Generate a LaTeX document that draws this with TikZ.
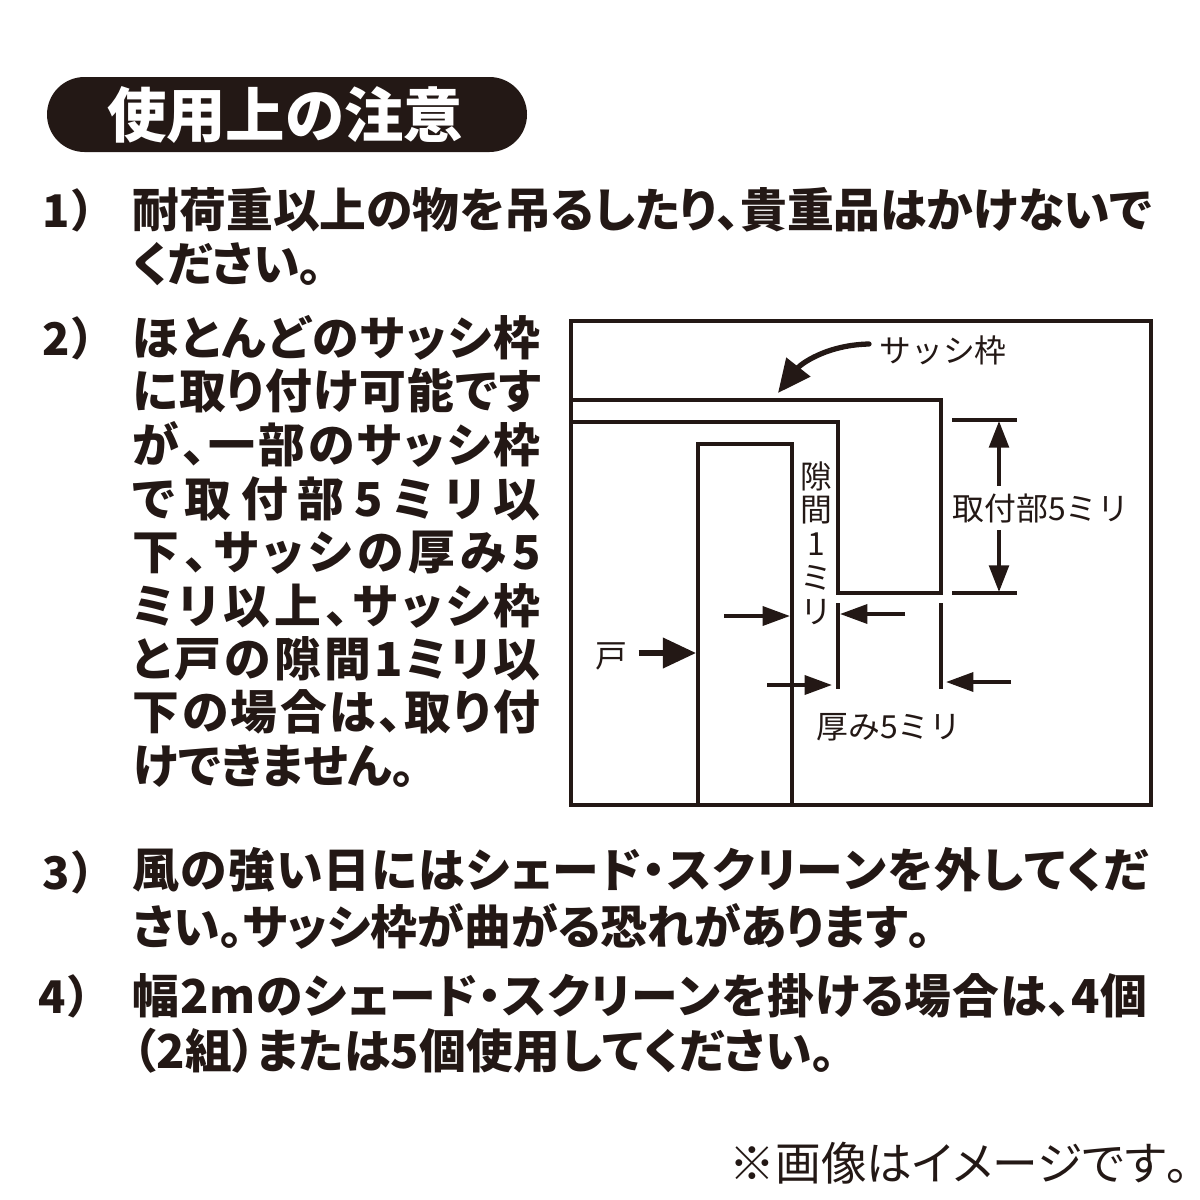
\documentclass[tikz,border=0pt]{standalone}
\usepackage{fontspec}
\newfontfamily\jpfont{Noto Sans CJK JP}[RawFeature=+palt]
\newfontfamily\jpplain{Noto Sans CJK JP}
\usetikzlibrary{arrows.meta}
\definecolor{inkblack}{HTML}{231815}
\newlength\pxlen
\setlength\pxlen{0.01cm}
\newcommand{\spreadnext}[1]{\ifx#1\relax\else#1\hfil\expandafter\spreadnext\fi}
\newcommand{\fitline}[2]{\hbox to #1\pxlen{\spreadnext#2\relax\unskip}}
\tikzset{
  bodyline/.style={anchor=west,inner sep=0pt,text=inkblack,text height=10.5pt,text depth=1.5pt,
    font=\jpfont\bfseries\fontsize{13.3}{15}\selectfont},
  numline/.style={bodyline,font=\jpplain\bfseries\fontsize{12.8}{15}\selectfont},
  smalltext/.style={inner sep=0pt,text=inkblack,font=\jpplain\fontsize{9.05}{10.5}\selectfont},
  wall/.style={draw=inkblack,line width=1.15pt},
  guide/.style={draw=inkblack,line width=1.05pt},
  pointer/.style={draw=inkblack,line width=1.05pt,-{Triangle[length=7.8pt,width=5.4pt]}},
  dimarrow/.style={draw=inkblack,line width=1.05pt,-{Triangle[length=7.6pt,width=5.6pt]}},
  bigarrow/.style={draw=inkblack,line width=1.5pt,-{Triangle[length=9.4pt,width=8.4pt]}}
}
\begin{document}
\begin{tikzpicture}[x=0.01cm,y=-0.01cm]
  \useasboundingbox (0,0) rectangle (1200,1200);
  \node[rounded corners=37.5*0.01cm,fill=inkblack,minimum width=480*0.01cm,minimum height=75*0.01cm,inner sep=0pt] (title) at (287,114.5) {};
  \node[inner sep=0pt,text=white,font=\jpfont\bfseries\fontsize{16.9}{20}\selectfont] (titletext) at (285,115) {使用上の注意};

  \node[numline] (n1) at (42,212) {1）};
  \node[bodyline] (t1a) at (132,212) {\fitline{1016}{耐荷重以上の物を吊るしたり、貴重品はかけないで}};
  \node[bodyline] (t1b) at (132,266) {\fitline{186}{ください。}};
  \node[numline] (n2) at (42,340) {2）};
  \node[bodyline] (t2a) at (132,340) {\fitline{408}{ほとんどのサッシ枠}};
  \node[bodyline] (t2b) at (132,393) {\fitline{408}{に取り付け可能です}};
  \node[bodyline] (t2c) at (132,447) {\fitline{408}{が、一部のサッシ枠}};
  \node[bodyline] (t2d) at (132,501) {\fitline{408}{で取付部5ミリ以}};
  \node[bodyline] (t2e) at (132,554) {\fitline{408}{下、サッシの厚み5}};
  \node[bodyline] (t2f) at (132,608) {\fitline{408}{ミリ以上、サッシ枠}};
  \node[bodyline] (t2g) at (132,661) {\fitline{408}{と戸の隙間1ミリ以}};
  \node[bodyline] (t2h) at (132,714) {\fitline{408}{下の場合は、取り付}};
  \node[bodyline] (t2i) at (132,768) {\fitline{283}{けできません。}};
  \node[numline] (n3) at (42,874) {3）};
  \node[bodyline] (t3a) at (132,872) {\fitline{1015}{風の強い日にはシェード・スクリーンを外してくだ}};
  \node[bodyline] (t3b) at (132,929) {\fitline{793}{さい。サッシ枠が曲がる恐れがあります。}};
  \node[numline] (n4) at (38,998) {4）};
  \node[bodyline] (t4a) at (132,998) {\fitline{1015}{幅2mのシェード・スクリーンを掛ける場合は、4個}};
  \node[bodyline] (t4b) at (132,1053) {\fitline{703}{（2組）または5個使用してください。}};
  \node[bodyline,font=\jpfont\fontsize{13}{15}\selectfont] (note) at (729,1165) {\fitline{454}{※画像はイメージです。}};

  \draw[wall] (571,321) rectangle (1151,805);
  \draw[wall] (571,400) -- (941,400) -- (941,593) -- (838,593) -- (838,422) -- (571,422);
  \draw[wall] (698,805) -- (698,444) -- (792,444) -- (792,805);

  \node[smalltext] (sash) at (943,350) {サッシ枠};
  \node[smalltext] (fix) at (1041,508) {取付部5ミリ};
  \node[smalltext] (thick) at (889,727) {厚み5ミリ};
  \node[smalltext] (door) at (611,656) {戸};
  \node[smalltext,align=center,font=\jpplain\fontsize{9.05}{9.6}\selectfont] (gap) at (816,543) {隙\\間\\1\\ミ\\リ};

  \coordinate (sashend) at (869,344);
  \coordinate (sashtip) at (778,393);
  \draw[bigarrow,line cap=round] (sashend) .. controls (825,345) and (800,365) .. (sashtip);

  \coordinate (fixtop) at (999,421);
  \coordinate (fixbot) at (999,592);
  \draw[guide] (952,420) -- (1017,420);
  \draw[guide] (952,593) -- (1017,593);
  \draw[dimarrow] (fix.north -| fixtop) ++(0,-7) -- (fixtop);
  \draw[dimarrow] (fix.south -| fixbot) ++(0,7) -- (fixbot);

  \draw[guide] (838,603) -- (838,689);
  \draw[guide] (941,603) -- (941,689);

  \coordinate (gapl) at (724,616);
  \coordinate (gapltip) at (790,616);
  \coordinate (gapr) at (905,614);
  \coordinate (gaprtip) at (840,614);
  \coordinate (thickl) at (767,685);
  \coordinate (thickltip) at (832,685);
  \coordinate (thickr) at (1011,682);
  \coordinate (thickrtip) at (946,682);
  \draw[pointer] (gapl) -- (gapltip);
  \draw[pointer] (gapr) -- (gaprtip);
  \draw[pointer] (thickl) -- (thickltip);
  \draw[pointer] (thickr) -- (thickrtip);

  \coordinate (doortip) at (696,653);
  \draw[bigarrow] (door.east) ++(11,-3) -- (doortip);
\end{tikzpicture}
\end{document}
